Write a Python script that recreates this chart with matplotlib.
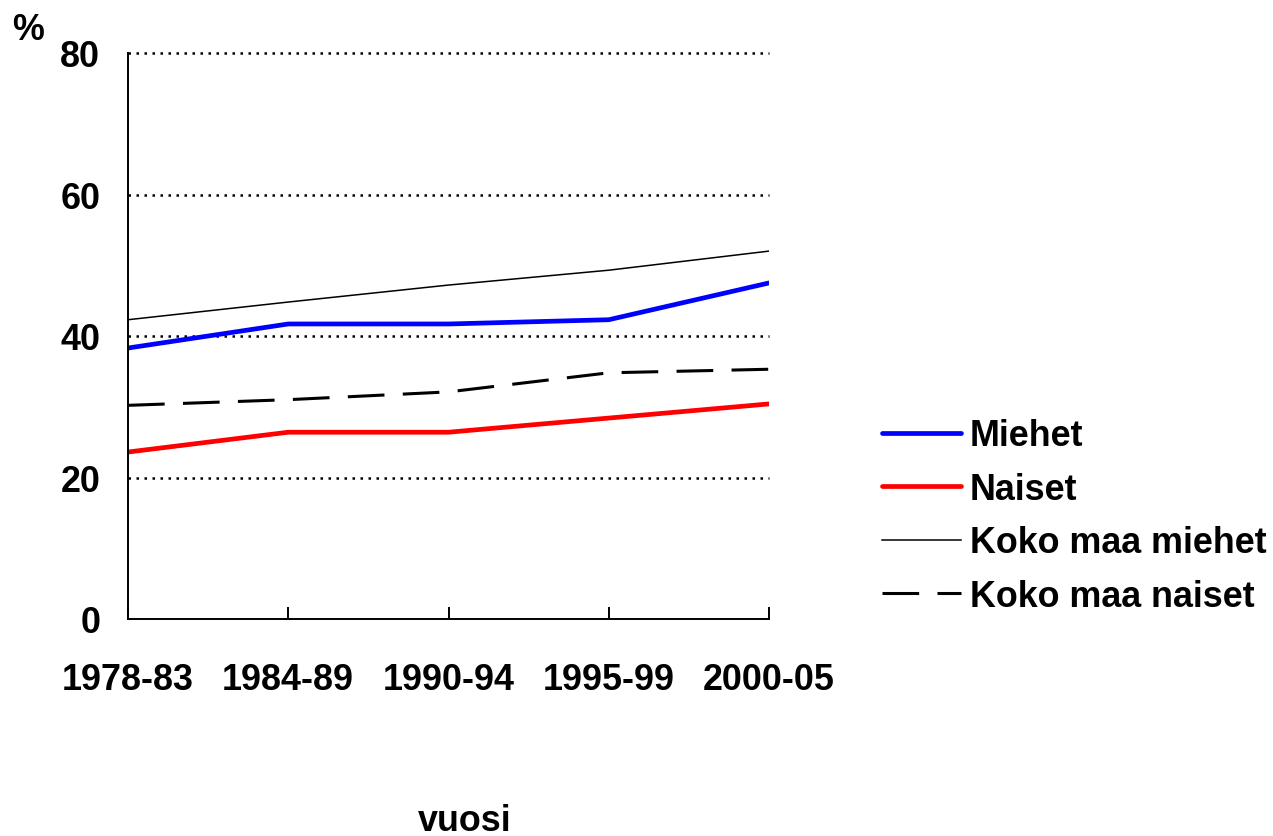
import matplotlib
matplotlib.use('Agg')
import matplotlib.pyplot as plt
from matplotlib.lines import Line2D

plt.rcParams['font.family'] = ['Liberation Sans', 'DejaVu Sans']
plt.rcParams['font.weight'] = 'bold'

periods = ['1978-83', '1984-89', '1990-94', '1995-99', '2000-05']
miehet = [38.3, 41.7, 41.7, 42.3, 47.5]
naiset = [23.6, 26.4, 26.4, 28.4, 30.4]
koko_miehet = [42.3, 44.8, 47.2, 49.3, 52.0]
koko_naiset = [30.2, 31.0, 32.1, 34.8, 35.3]
yticks = [0, 20, 40, 60, 80]

fs = 25.8

fig = plt.figure(figsize=(12.73, 8.37), dpi=100)
ax = fig.add_axes([128 / 1273, 1 - 620 / 837, (769 - 128) / 1273, (620 - 54) / 837])

x = list(range(len(periods)))
ax.plot(x, koko_miehet, color='black', lw=1.1, label='Koko maa miehet')
ax.plot(x, koko_naiset, color='black', lw=2.2, dashes=(12, 6), label='Koko maa naiset')
ax.plot(x, naiset, color='#ff0000', lw=3.4, solid_capstyle='round', label='Naiset')
ax.plot(x, miehet, color='#0000ff', lw=3.4, solid_capstyle='round', label='Miehet')

ax.set_xlim(0, len(periods) - 1)
ax.set_ylim(0, 80)
ax.set_yticks(yticks)
ax.set_xticks(x)
ax.set_xticklabels(periods)
for yv in yticks[1:]:
    ax.axhline(yv, color='black', lw=1.8, ls=(0, (1, 2.2)), zorder=0, clip_on=False)

for s in ['top', 'right']:
    ax.spines[s].set_visible(False)
ax.spines['left'].set_linewidth(1.4)
ax.spines['bottom'].set_linewidth(1.4)
ax.tick_params(axis='y', length=0, pad=20, labelsize=fs)
ax.tick_params(axis='x', direction='in', length=9, width=1.4, pad=31, labelsize=fs)

fig.text(28 / 1273, 1 - 30 / 837, '%', fontsize=fs, fontweight='bold', ha='center', va='center')
fig.text(465 / 1273, 1 - 822 / 837, 'vuosi', fontsize=fs, fontweight='bold', ha='center', va='center')

handles = [
    Line2D([], [], color='#0000ff', lw=3.4, solid_capstyle='round'),
    Line2D([], [], color='#ff0000', lw=3.4, solid_capstyle='round'),
    Line2D([], [], color='black', lw=1.1),
    Line2D([], [], color='black', lw=2.2, dashes=(12, 6)),
]
labels = ['Miehet', 'Naiset', 'Koko maa miehet', 'Koko maa naiset']
fig.legend(handles, labels, loc='center left', bbox_to_anchor=(850 / 1273, 1 - 517 / 837),
           frameon=False, fontsize=fs, handlelength=2.2, handletextpad=0.25, labelspacing=0.52)

fig.savefig('out.png', dpi=100)
